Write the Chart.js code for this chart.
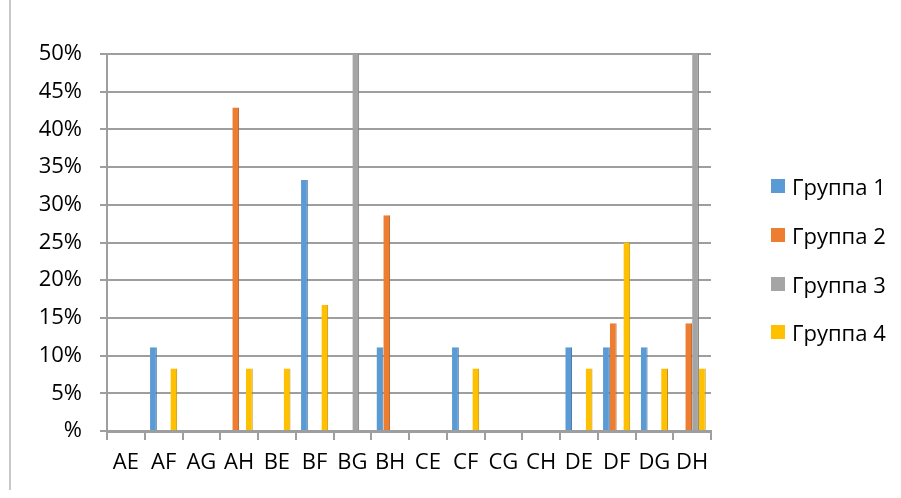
<!DOCTYPE html>
<html>
<head>
<meta charset="utf-8">
<script src="https://cdn.jsdelivr.net/npm/chart.js@4.4.1/dist/chart.umd.min.js"></script>
<style>
    body { margin: 0; background: #fff; }
    #wrap { position: relative; width: 901px; height: 498px; }
    #edge { position: absolute; left: 9px; top: 0; width: 0; height: 490px; border-left: 2px solid #c8c8c8; }
    #legend { position: absolute; left: 771px; top: 162px; font-family: "Open Sans", sans-serif; font-size: 22px; color: #000; }
    #legend div { height: 48.7px; display: flex; align-items: center; }
    #legend span.box { display: inline-block; width: 14px; height: 14px; margin-right: 7px; }
</style>
</head>
<body>
<div id="wrap">
    <div id="edge"></div>
    <canvas id="myChart" width="901" height="498"></canvas>
    <div id="legend"></div>
</div>
<script>
/* ========== Data =============== */

const categories = ['AE', 'AF', 'AG', 'AH', 'BE', 'BF', 'BG', 'BH', 'CE', 'CF', 'CG', 'CH', 'DE', 'DF', 'DG', 'DH'];
const groupNames = ['Группа 1', 'Группа 2', 'Группа 3', 'Группа 4'];

const group1 = [0, 11.1, 0, 0, 0, 33.3, 0, 11.1, 0, 11.1, 0, 0, 11.1, 11.1, 11.1, 0];
const group2 = [0, 0, 0, 42.9, 0, 0, 0, 28.6, 0, 0, 0, 0, 0, 14.3, 0, 14.3];
const group3 = [0, 0, 0, 0, 0, 0, 50, 0, 0, 0, 0, 0, 0, 0, 0, 50];
const group4 = [0, 8.3, 0, 8.3, 8.3, 16.7, 0, 0, 0, 8.3, 0, 0, 8.3, 25, 8.3, 8.3];

const yTicks = [0, 5, 10, 15, 20, 25, 30, 35, 40, 45, 50];

const colors = ['#5b9bd5', '#ed7d31', '#a5a5a5', '#ffc000'];
const borders = ['#41719c', '#ae5a21', '#787878', '#bc8c00'];

/* ========== Chart =============== */

const ctx = document.getElementById('myChart');
const series = [group1, group2, group3, group4];

new Chart(ctx, {
    type: 'bar',
    data: {
        labels: categories,
        datasets: series.map(function (values, i) {
            return {
                label: groupNames[i],
                data: values,
                backgroundColor: colors[i],
                borderColor: borders[i],
                borderWidth: { left: 0, right: 1, top: 0, bottom: 0 },
                categoryPercentage: 0.72,
                barPercentage: 1
            };
        })
    },
    options: {
        responsive: false,
        animation: false,
        layout: {
            padding: { left: 0, right: 190, top: 54, bottom: 0 }
        },
        plugins: {
            legend: { display: false },
            tooltip: { enabled: false }
        },
        scales: {
            x: {
                grid: {
                    display: true,
                    offset: true,
                    drawOnChartArea: false,
                    tickLength: 9,
                    color: '#9e9e9e',
                    lineWidth: 2
                },
                border: { color: '#9e9e9e', width: 3 },
                ticks: {
                    color: '#000',
                    padding: 10,
                    font: { family: 'Open Sans', size: 22 },
                    maxRotation: 0,
                    autoSkip: false
                },
                afterFit: function (scale) { scale.height = 67; }
            },
            y: {
                min: 0,
                max: 50,
                afterBuildTicks: function (scale) {
                    scale.ticks = yTicks.map(function (v) { return { value: v }; });
                },
                grid: {
                    color: '#9e9e9e',
                    lineWidth: 2,
                    tickLength: 7
                },
                border: { color: '#9e9e9e', width: 2 },
                ticks: {
                    color: '#000',
                    padding: 18,
                    font: { family: 'Open Sans', size: 22 },
                    callback: function (v) { return v === 0 ? '%' : v + '%'; }
                },
                afterFit: function (scale) { scale.width = 107; }
            }
        }
    }
});

/* ========== Legenda =============== */

var legenda = document.getElementById('legend');
for (var i = 0; i < groupNames.length; i++) {
    legenda.innerHTML += '<div><span class="box" style="background:' + colors[i] + '"></span>' + groupNames[i] + '</div>';
}
</script>
</body>
</html>
